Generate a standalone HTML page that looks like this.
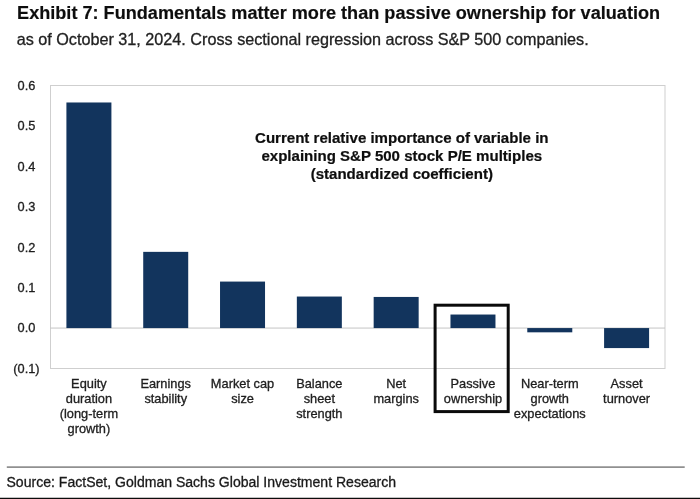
<!DOCTYPE html>
<html lang="en"><head><meta charset="utf-8"><title>Exhibit 7</title>
<style>
html,body{margin:0;padding:0;background:#fff;}
body{width:700px;height:499px;overflow:hidden;font-family:"Liberation Sans",Arial,sans-serif;}
svg{display:block}
text{font-family:"Liberation Sans",Arial,sans-serif;fill:#1c1c1c;stroke:#1c1c1c;stroke-width:0.3px;filter:url(#soft)}
.title{stroke-width:0.2px;font-weight:bold;font-size:18.12px;fill:#111}
.sub{font-size:16.2px;fill:#222}
.ax{font-size:12.8px;text-anchor:end;fill:#222}
.cat{font-size:12.8px;text-anchor:middle;fill:#222}
.ann{stroke-width:0.2px;font-size:15.06px;font-weight:bold;text-anchor:middle;fill:#0d0d0d;stroke:#0d0d0d}
.src{font-size:14.06px;fill:#1a1a1a}
</style></head><body>
<svg width="700" height="499" viewBox="0 0 700 499">
<defs><filter id="soft" x="-5%" y="-30%" width="110%" height="160%"><feGaussianBlur stdDeviation="0.5"/></filter></defs>
<rect x="0" y="0" width="700" height="499" fill="#ffffff"/>
<text class="title" x="17.05" y="19.45">Exhibit 7: Fundamentals matter more than passive ownership for valuation</text>
<text class="sub" x="16.7" y="44.6">as of October 31, 2024. Cross sectional regression across S&amp;P 500 companies.</text>
<rect x="50.5" y="85.5" width="614.5" height="283.0" fill="#fff" stroke="#cfcfcf" stroke-width="1"/>
<line x1="50.5" y1="328.07" x2="665" y2="328.07" stroke="#c4c4c4" stroke-width="1"/>
<rect x="66.41" y="102.48" width="45" height="225.59" fill="#12345d"/>
<rect x="143.22" y="251.86" width="45" height="76.21" fill="#12345d"/>
<rect x="220.03" y="281.58" width="45" height="46.49" fill="#12345d"/>
<rect x="296.84" y="296.54" width="45" height="31.53" fill="#12345d"/>
<rect x="373.66" y="296.94" width="45" height="31.13" fill="#12345d"/>
<rect x="450.47" y="314.53" width="45" height="13.54" fill="#12345d"/>
<rect x="527.28" y="328.07" width="45" height="4.25" fill="#12345d"/>
<rect x="604.09" y="328.07" width="45" height="20.01" fill="#12345d"/>
<text class="ax" x="35.4" y="89.90">0.6</text>
<text class="ax" x="35.4" y="130.33">0.5</text>
<text class="ax" x="35.4" y="170.76">0.4</text>
<text class="ax" x="35.4" y="211.19">0.3</text>
<text class="ax" x="35.4" y="251.61">0.2</text>
<text class="ax" x="35.4" y="292.04">0.1</text>
<text class="ax" x="35.4" y="332.47">0.0</text>
<text class="ax" x="39.6" y="372.90">(0.1)</text>
<text class="cat" x="88.91" y="387.80">Equity</text>
<text class="cat" x="88.91" y="402.90">duration</text>
<text class="cat" x="88.91" y="417.90">(long-term</text>
<text class="cat" x="88.91" y="432.50">growth)</text>
<text class="cat" x="165.72" y="387.80">Earnings</text>
<text class="cat" x="165.72" y="402.90">stability</text>
<text class="cat" x="242.53" y="387.80">Market cap</text>
<text class="cat" x="242.53" y="402.90">size</text>
<text class="cat" x="319.34" y="387.80">Balance</text>
<text class="cat" x="319.34" y="402.90">sheet</text>
<text class="cat" x="319.34" y="417.90">strength</text>
<text class="cat" x="396.16" y="387.80">Net</text>
<text class="cat" x="396.16" y="402.90">margins</text>
<text class="cat" x="472.97" y="387.80">Passive</text>
<text class="cat" x="472.97" y="402.90">ownership</text>
<text class="cat" x="549.78" y="387.80">Near-term</text>
<text class="cat" x="549.78" y="402.90">growth</text>
<text class="cat" x="549.78" y="417.90">expectations</text>
<text class="cat" x="626.59" y="387.80">Asset</text>
<text class="cat" x="626.59" y="402.90">turnover</text>
<rect x="435.1" y="305.2" width="73.1" height="106.4" fill="none" stroke="#0a0a0a" stroke-width="3"/>
<text class="ann" x="401.8" y="143.2">Current relative importance of variable in</text>
<text class="ann" x="401.8" y="161.2">explaining S&amp;P 500 stock P/E multiples</text>
<text class="ann" x="401.8" y="178.85">(standardized coefficient)</text>
<line x1="6.8" y1="467.1" x2="684.7" y2="467.1" stroke="#909090" stroke-width="1.6"/>
<text class="src" x="6.5" y="487">Source: FactSet, Goldman Sachs Global Investment Research</text>
<rect x="0" y="497.75" width="700" height="1.25" fill="#0c0c0c"/>
</svg>
</body></html>
